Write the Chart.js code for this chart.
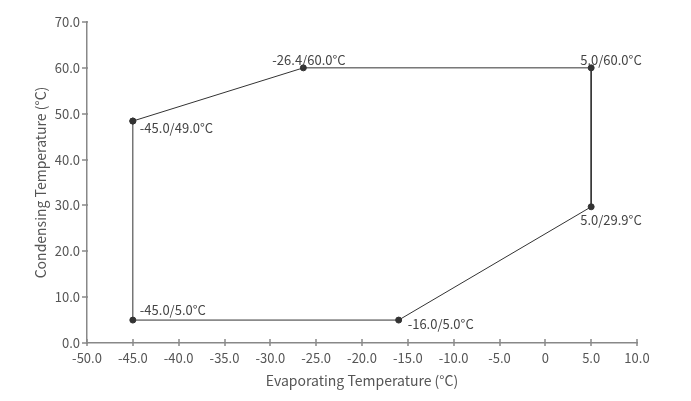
<!DOCTYPE html>
<html><head><meta charset="utf-8">
<script src="https://cdn.jsdelivr.net/npm/chart.js@4/dist/chart.umd.min.js"></script>
<style>html,body{margin:0;padding:0;background:#fff}#wrap{width:691px;height:401px}</style>
</head><body><div id="wrap"><canvas id="c" width="691" height="401"></canvas></div>
<script>
const evaporating = [-45.0, -26.4, 5.0, 5.0, -16.0, -45.0, -45.0];
const condensing  = [48.4, 60.0, 60.0, 29.7, 5.0, 5.0, 48.4];
const pointLabels = ['-45.0/49.0°C', '-26.4/60.0°C', '5.0/60.0°C', '5.0/29.9°C', '-16.0/5.0°C', '-45.0/5.0°C', ''];
const xTicks = [-50,-45,-40,-35,-30,-25,-20,-15,-10,-5,0,5,10];
const yTicks = [0,10,20,30,40,50,60,70];

const FONT = '"Noto Sans CJK SC", "Noto Sans", sans-serif';
const TXT = '#555';
// label offsets [dx, dy, align, baseline]
const labelOffsets = [[7,7,'left','middle'],[-31,-8,'left','middle'],[-11,-8,'left','middle'],[-11,13,'left','middle'],[9,4,'left','middle'],[7,-10,'left','middle'],[0,0,'left','middle']];

const pts = evaporating.map((x,i)=>({x, y: condensing[i]}));

const extras = {
  id:'extras',
  afterDraw(chart){
    const ctx = chart.ctx, xs = chart.scales.x, ys = chart.scales.y;
    ctx.save();
    ctx.strokeStyle = '#888'; ctx.lineWidth = 1.5;
    const yb = ys.getPixelForValue(0), xl = xs.getPixelForValue(-50);
    xTicks.forEach(v=>{const p = Math.round(xs.getPixelForValue(v));
      ctx.beginPath(); ctx.moveTo(p, yb-4); ctx.lineTo(p, yb+3); ctx.stroke();});
    yTicks.forEach(v=>{const p = Math.round(ys.getPixelForValue(v));
      ctx.beginPath(); ctx.moveTo(xl-5, p); ctx.lineTo(xl+1, p); ctx.stroke();});
    ctx.fillStyle = '#444'; ctx.font = '13px ' + FONT;
    pts.forEach((p,i)=>{
      if(!pointLabels[i]) return;
      const o = labelOffsets[i];
      ctx.textAlign = o[2]; ctx.textBaseline = o[3];
      ctx.fillText(pointLabels[i], xs.getPixelForValue(p.x)+o[0], ys.getPixelForValue(p.y)+o[1]);
    });
    ctx.restore();
  }
};

new Chart(document.getElementById('c'), {
  type:'scatter',
  data:{datasets:[{data:pts, showLine:true, borderColor:'#333', borderWidth:1,
    pointRadius:3, pointBackgroundColor:'#333', pointBorderColor:'#333', pointHoverRadius:3}]},
  options:{
    responsive:false, animation:false,
    layout:{padding:{left:28, right:54, top:22, bottom:8}},
    plugins:{legend:{display:false}, tooltip:{enabled:false}},
    scales:{
      x:{type:'linear', min:-50, max:10,
        afterBuildTicks(s){ s.ticks = xTicks.map(v=>({value:v})); },
        afterFit(s){ s.height = 50; },
        grid:{drawOnChartArea:false, drawTicks:false},
        border:{display:true, color:'#888', width:1.5},
        ticks:{padding:7, color:TXT, font:{family:FONT, size:13}, maxRotation:0, autoSkip:false,
          callback:v=> v===0 ? '0' : v.toFixed(1)},
        title:{display:true, text:'Evaporating Temperature (°C)', color:TXT, font:{family:FONT, size:14}}
      },
      y:{type:'linear', min:0, max:70,
        afterBuildTicks(s){ s.ticks = yTicks.map(v=>({value:v})); },
        afterFit(s){ s.width = 59; },
        grid:{drawOnChartArea:false, drawTicks:false},
        border:{display:true, color:'#888', width:1.5},
        ticks:{padding:7, color:TXT, font:{family:FONT, size:13}, autoSkip:false,
          callback:v=> v.toFixed(1)},
        title:{display:true, text:'Condensing Temperature (°C)', color:TXT, font:{family:FONT, size:14}}
      }
    }
  },
  plugins:[extras]
});
</script></body></html>
